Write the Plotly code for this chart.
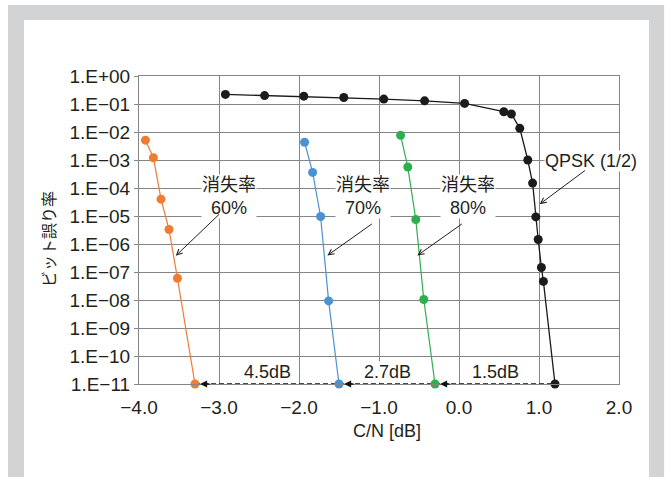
import plotly.graph_objects as go

# C/N [dB] vs bit error rate for QPSK(1/2) and erasure rates 60/70/80 %
qpsk_x = [-2.92, -2.43, -1.94, -1.44, -0.94, -0.43, 0.07, 0.56, 0.655, 0.76,
          0.86, 0.92, 0.96, 0.99, 1.03, 1.055, 1.2]
qpsk_ber = [2.2e-1, 2.0e-1, 1.9e-1, 1.7e-1, 1.5e-1, 1.3e-1, 1.05e-1, 5.3e-2, 4.4e-2,
            1.35e-2, 1.0e-3, 1.5e-4, 9.3e-6, 1.45e-6, 1.45e-7, 4.6e-8, 1e-11]

er60_x = [-3.92, -3.82, -3.725, -3.625, -3.52, -3.3]
er60_ber = [5.1e-3, 1.2e-3, 4.0e-5, 3.3e-6, 6.0e-8, 1e-11]

er70_x = [-1.93, -1.83, -1.73, -1.63, -1.5]
er70_ber = [4.3e-3, 3.6e-4, 9.6e-6, 9.3e-9, 1e-11]

er80_x = [-0.73, -0.64, -0.54, -0.44, -0.3]
er80_ber = [7.6e-3, 5.6e-4, 7.5e-6, 1.04e-8, 1e-11]

x_ticks = [-4, -3, -2, -1, 0, 1, 2]
x_ticktext = ["\u22124.0", "\u22123.0", "\u22122.0", "\u22121.0", "0.0", "1.0", "2.0"]
y_exponents = list(range(0, -12, -1))
y_ticktext = ["1.E+00", "1.E\u221201", "1.E\u221202", "1.E\u221203", "1.E\u221204",
              "1.E\u221205", "1.E\u221206", "1.E\u221207", "1.E\u221208", "1.E\u221209",
              "1.E\u221210", "1.E\u221211"]

COL_QPSK = "#1c1a1a"
COL_60 = "#ee7d33"
COL_70 = "#4b92cf"
COL_80 = "#2fae50"
GRID = "#858585"
TXT = "#231f20"
FONT = "Liberation Sans, Arial, Noto Sans CJK JP"
JFONT = "Liberation Sans, Noto Sans CJK JP"

erasure = [
    ("消失率<br>60%", er60_x, er60_ber, COL_60),
    ("消失率<br>70%", er70_x, er70_ber, COL_70),
    ("消失率<br>80%", er80_x, er80_ber, COL_80),
]

fig = go.Figure()

# dashed baseline linking the error-floor points
floor_y = 10.0 ** y_exponents[-1]
fig.add_trace(go.Scatter(
    x=[min(s[1][-1] for s in erasure), qpsk_x[-1]], y=[floor_y, floor_y],
    mode="lines", line=dict(color="#111111", width=1.7, dash="5px,3px"),
    showlegend=False, hoverinfo="skip", cliponaxis=False))

for name, xs, ys, col in erasure:
    fig.add_trace(go.Scatter(
        x=xs, y=ys, mode="lines+markers", name=name.replace("<br>", " "),
        line=dict(color=col, width=1.2), marker=dict(color=col, size=9),
        showlegend=False, cliponaxis=False))

fig.add_trace(go.Scatter(
    x=qpsk_x, y=qpsk_ber, mode="lines+markers", name="QPSK(1/2)",
    line=dict(color=COL_QPSK, width=1.3), marker=dict(color=COL_QPSK, size=9),
    showlegend=False, cliponaxis=False))

annotations = []

# series labels with leader arrows (text centre, arrow tail, arrow head)
label_pos = [(-2.87, -4.3, -2.98, -4.89, -3.54, -6.42),
             (-1.20, -4.3, -1.07, -5.245, -1.645, -6.41),
             (0.11, -4.3, 0.055, -5.245, -0.52, -6.41)]
for (name, xs, ys, col), (tx, ty, ax, ay, hx, hy) in zip(erasure, label_pos):
    annotations.append(dict(x=tx, y=ty, text=name, showarrow=False,
                            font=dict(family=JFONT, size=18, color=TXT),
                            bgcolor="white", borderpad=0))
    annotations.append(dict(x=hx, y=hy, ax=ax, ay=ay, axref="x", ayref="y",
                            text="", showarrow=True, arrowhead=5, arrowsize=1.1,
                            arrowwidth=1, arrowcolor=TXT))

annotations.append(dict(x=1.65, y=-3.03, text="QPSK (1/2)", showarrow=False,
                        font=dict(family=JFONT, size=18, color=TXT),
                        bgcolor="white", borderpad=0))
annotations.append(dict(x=1.009, y=-4.576, ax=1.593, ay=-3.336, axref="x", ayref="y",
                        text="", showarrow=True, arrowhead=5, arrowsize=1.1,
                        arrowwidth=1, arrowcolor=TXT))

# C/N gap markers along the error floor
bottoms = [s[1][-1] for s in erasure] + [qpsk_x[-1]]
for i, (name, xs, ys, col) in enumerate(erasure):
    gap = qpsk_x[-1] - xs[-1]
    annotations.append(dict(x=xs[-1], y=y_exponents[-1], ax=16, ay=0,
                            axref="pixel", ayref="pixel", text="", showarrow=True,
                            arrowhead=2, arrowsize=1.1, arrowwidth=1.3,
                            arrowcolor="#111111", standoff=5))
    annotations.append(dict(x=(xs[-1] + bottoms[i + 1]) / 2, y=y_exponents[-1],
                            yshift=12, text=f"{gap:.1f}dB", showarrow=False,
                            font=dict(family=FONT, size=18, color=TXT),
                            bgcolor="white", borderpad=0))

# axis titles
annotations.append(dict(xref="paper", yref="paper", x=0.516, y=-0.19,
                        text="C/N [dB]", showarrow=False,
                        font=dict(family=FONT, size=18, color=TXT)))
annotations.append(dict(xref="paper", yref="paper", x=-0.208, y=0.47,
                        text="ビット誤り率", textangle=-90, showarrow=False,
                        font=dict(family=JFONT, size=16, color=TXT)))

# outer frame
shapes = [
    dict(type="rect", xref="paper", yref="paper", x0=-0.273, x1=1.094,
         y0=-0.4, y1=1.2305, fillcolor="#d1d3d4", line=dict(width=0), layer="below"),
    dict(type="rect", xref="paper", yref="paper", x0=-0.2396, x1=1.0625,
         y0=-0.4, y1=1.1818, fillcolor="white", line=dict(width=0), layer="below"),
]

fig.update_layout(
    width=667, height=477,
    margin=dict(l=139, r=48, t=76, b=93),
    paper_bgcolor="white", plot_bgcolor="rgba(0,0,0,0)",
    font=dict(family=FONT, size=18, color=TXT),
    annotations=annotations, shapes=shapes,
    xaxis=dict(range=[-4, 2], tickvals=x_ticks, ticktext=x_ticktext,
               showgrid=True, gridcolor=GRID, gridwidth=1, zeroline=False,
               showline=True, linecolor=GRID, linewidth=1, mirror=True,
               ticks="", ticklabelstandoff=6, tickfont=dict(size=19, color=TXT)),
    yaxis=dict(type="log", range=[-11, 0],
               tickvals=[10.0 ** e for e in y_exponents], ticktext=y_ticktext,
               showgrid=True, gridcolor=GRID, gridwidth=1, zeroline=False,
               showline=True, linecolor=GRID, linewidth=1, mirror=True,
               ticks="outside", ticklen=4, tickcolor=GRID,
               tickfont=dict(size=19, color=TXT)),
)

fig.write_html("out.html")
